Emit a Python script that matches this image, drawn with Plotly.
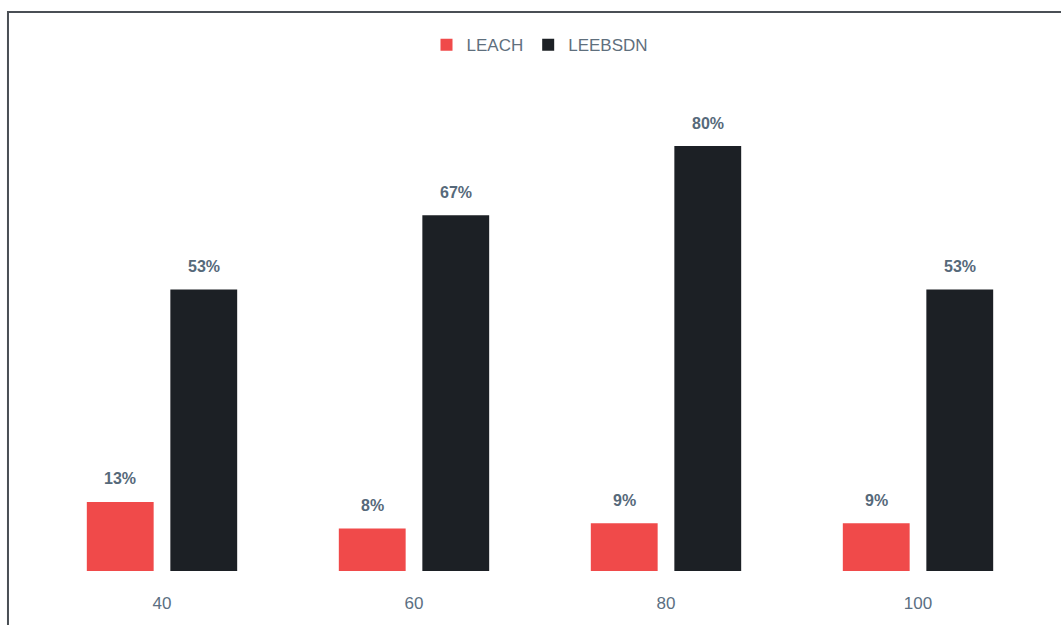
import plotly.graph_objects as go

# Node counts and delivery ratios (percent) per protocol
nodes = ["40", "60", "80", "100"]
leach = [13, 8, 9, 9]
leebsdn = [53, 67, 80, 53]

FONT = "Liberation Sans Narrow, Liberation Sans, Arial"
TEXT_COLOR = "#56697a"

fig = go.Figure()
fig.add_trace(go.Bar(
    name="LEACH", x=nodes, y=leach,
    marker=dict(color="#f04a4a", line=dict(width=0)),
))
fig.add_trace(go.Bar(
    name="LEEBSDN", x=nodes, y=leebsdn,
    marker=dict(color="#1c2025", line=dict(width=0)),
))

# Value labels above each bar; on a category axis the annotation x is the
# category index, and bars sit ~42 px either side of the category centre
for series, shift in ((leach, -42), (leebsdn, 42)):
    for i, v in enumerate(series):
        fig.add_annotation(
            x=i, y=v, xref="x", yref="y", text=f"<b>{v}%</b>",
            showarrow=False, xshift=shift, yshift=23, yanchor="middle",
            font=dict(family="Liberation Sans, Arial", size=16, color=TEXT_COLOR),
        )

# Outer frame around the chart area
fig.add_shape(type="rect", xref="paper", yref="paper",
              x0=-0.0278, x1=1.1, y0=-0.3, y1=1.1695,
              line=dict(color="#4a4f55", width=2), fillcolor="rgba(0,0,0,0)")

fig.update_layout(
    width=1061, height=625,
    margin=dict(l=36, r=17, t=93, b=54, autoexpand=False),
    paper_bgcolor="white", plot_bgcolor="white",
    barmode="group", bargap=0.337, bargroupgap=0.2,
    showlegend=True,
    legend=dict(orientation="h", x=0.5, xanchor="center", y=1.1, yanchor="middle",
                font=dict(family=FONT, size=17, color="#5f6f7d"),
                itemwidth=30, traceorder="normal"),
    xaxis=dict(type="category", range=[-0.5, len(nodes) - 0.5], automargin=False,
               showline=False, showgrid=False, ticks="outside",
               ticklen=17, tickcolor="rgba(0,0,0,0)",
               tickfont=dict(family=FONT, size=17, color="#5b6f82")),
    yaxis=dict(range=[0, 90], visible=False, showgrid=False),
)

fig.write_html("out.html")
